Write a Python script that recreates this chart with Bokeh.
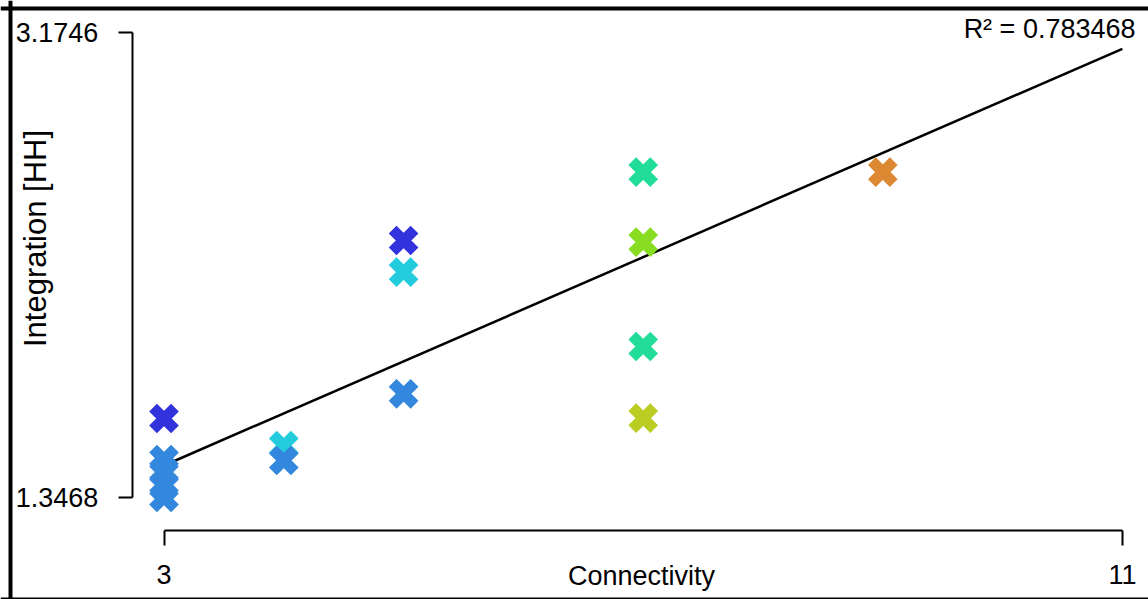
from bokeh.plotting import figure
from bokeh.models import Range1d, FixedTicker, Label, ColumnDataSource, BasicTickFormatter, Span
from bokeh.embed import file_html
from bokeh.resources import INLINE
from math import pi

# ---- data ----
connectivity = [3, 3, 3, 3, 3, 4, 4, 5, 5, 5, 7, 7, 7, 7, 9]
integration = [1.6576, 1.4963, 1.4520, 1.3901, 1.3468,
               1.5514, 1.4924,
               2.3578, 2.2331, 1.7547,
               2.6265, 2.3511, 1.9408, 1.6588,
               2.6265]
colors = ["#3333DD", "#3388DD", "#3388DD", "#3388DD", "#3388DD",
          "#22CCDD", "#3388DD",
          "#3333DD", "#22CCDD", "#3388DD",
          "#22DD99", "#88DD22", "#22DD99", "#BBCC22",
          "#DD8833"]
fit_x = [3, 11]
fit_y = [1.4727, 3.1120]
x_ticks = [3, 11]
y_ticks = [1.3468, 3.1746]
r2_text = "R\u00b2 = 0.783468"
x_title = "Connectivity"
y_title = "Integration [HH]"

FONT = "Liberation Sans"
FS = "27px"

W, H = 1148, 599
p = figure(width=W, height=H, output_backend="svg", toolbar_location=None,
           x_range=Range1d(1.6352, 11.2179), y_range=Range1d(0.9455, 3.3019),
           min_border=0)
p.outline_line_color = None
p.xgrid.visible = False
p.ygrid.visible = False
p.background_fill_color = "white"
p.border_fill_color = "white"

for ax, ticks, bounds in ((p.xaxis[0], x_ticks, (3, 11)), (p.yaxis[0], y_ticks, (1.3468, 3.1746))):
    ax.ticker = FixedTicker(ticks=ticks)
    ax.bounds = bounds
    ax.axis_line_width = 2
    ax.axis_line_color = "black"
    ax.major_tick_line_width = 2
    ax.major_tick_line_color = "black"
    ax.major_tick_in = 0
    ax.minor_tick_line_color = None
    ax.major_label_text_font = FONT
    ax.major_label_text_font_size = FS
    ax.major_label_text_color = "black"

p.yaxis[0].formatter = BasicTickFormatter(precision=4)
p.yaxis[0].fixed_location = 2.7346
p.yaxis[0].major_tick_out = 14
p.yaxis[0].major_label_standoff = 20
p.xaxis[0].fixed_location = 1.2189
p.xaxis[0].major_tick_out = 15
p.xaxis[0].major_label_standoff = 20

src = ColumnDataSource(dict(x=connectivity, y=integration, c=colors))
p.line(fit_x, fit_y, line_color="black", line_width=2.5)
p.scatter("x", "y", source=src, marker="x", size=31, line_width=11, line_color="c")

# axis titles and R^2 text (screen coordinates, frame == canvas)
p.add_layout(Label(x=641, y=24, x_units="screen", y_units="screen", text=x_title,
                   text_font=FONT, text_font_size=FS, text_align="center",
                   text_baseline="middle", text_color="black"))
p.add_layout(Label(x=35, y=361, x_units="screen", y_units="screen", text=y_title,
                   text_font=FONT, text_font_size="31px", text_align="center",
                   text_baseline="middle", angle=pi / 2, text_color="black"))
p.add_layout(Label(x=1135, y=571, x_units="screen", y_units="screen", text=r2_text,
                   text_font=FONT, text_font_size=FS, text_align="right",
                   text_baseline="middle", text_color="black"))

# outer border: left, top and bottom edges (right edge lies beyond the picture)
p.add_layout(Span(location=10, location_units="screen", dimension="height",
                  line_color="black", line_width=4, line_alpha=1))
p.add_layout(Span(location=591, location_units="screen", dimension="width",
                  line_color="black", line_width=4, line_alpha=1))
p.add_layout(Span(location=0, location_units="screen", dimension="width",
                  line_color="black", line_width=4, line_alpha=1))

open("out.html", "w").write(file_html(p, INLINE))
